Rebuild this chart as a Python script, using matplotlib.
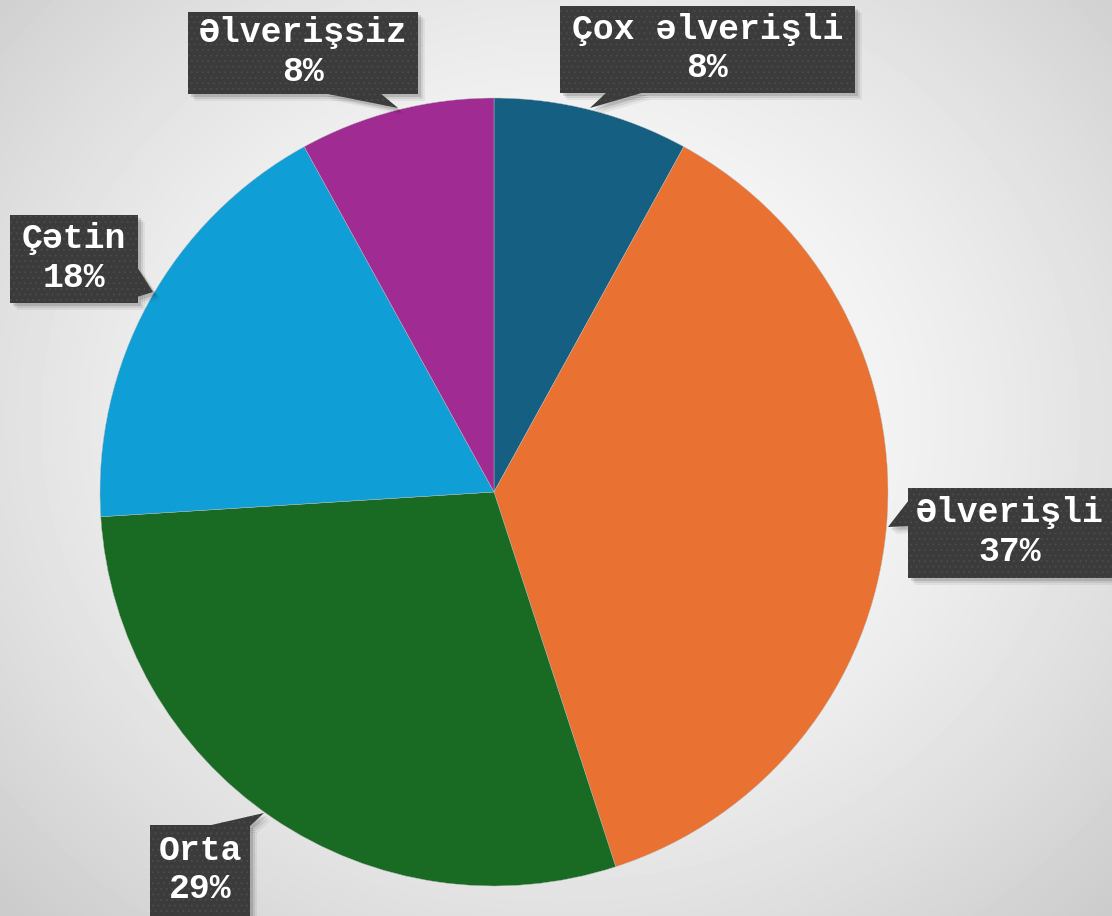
import numpy as np
import matplotlib.pyplot as plt
from matplotlib.patches import Polygon, Rectangle

categories = ["Çox əlverişli", "Əlverişli", "Orta", "Çətin", "Əlverişsiz"]
shares = [8, 37, 29, 18, 8]
colors = ["#156082", "#E97132", "#196B24", "#0F9ED5", "#A02B93"]

W, H = 1112, 916
fig = plt.figure(figsize=(W / 100, H / 100), dpi=100)
ax = fig.add_axes([0, 0, 1, 1])

# grey radial background
yy, xx = np.mgrid[0:H, 0:W]
d = np.hypot((xx - 560) / 700, (yy - 420) / 620)
bg = np.clip(1.0 - 0.17 * d ** 1.6, 0.8, 1.0)
ax.imshow(bg, cmap="gray", vmin=0, vmax=1, extent=(0, W, H, 0), zorder=0)

# y axis points down so that pixel positions read like the picture
ax.pie(shares, colors=colors, startangle=-90, counterclock=True,
       center=(494, 492), radius=394, frame=True,
       wedgeprops=dict(linewidth=0.3, edgecolor="#bbbbbb"))
ax.set_xlim(0, W)
ax.set_ylim(H, 0)
ax.set_aspect("equal")
ax.axis("off")

# callout boxes: (x0, y0, x1, y1) and pointer triangle, in pixels
callouts = [
    ((560, 6, 855, 93), [(607, 92), (645, 92), (590, 108)]),
    ((908, 488, 1116, 578), [(909, 500), (909, 526), (888, 527)]),
    ((150, 825, 250, 920), [(207, 826), (250, 826), (264, 813)]),
    ((10, 215, 138, 303), [(137, 267), (137, 297), (153, 292)]),
    ((188, 12, 418, 94), [(323, 93), (380, 93), (398, 108)]),
]

for (x0, y0, x1, y1), tri in callouts:
    for k, a in [(7, 0.05), (5, 0.08), (3, 0.12)]:
        ax.add_patch(Rectangle((x0 + k, y0 + k), x1 - x0, y1 - y0,
                               facecolor="black", alpha=a, lw=0, zorder=3))
        ax.add_patch(Polygon([(px + k, py + k) for px, py in tri],
                             facecolor="black", alpha=a, lw=0, zorder=3))

plt.rcParams["hatch.linewidth"] = 0.6
for ((x0, y0, x1, y1), tri), cat, val in zip(callouts, categories, shares):
    ax.add_patch(Rectangle((x0, y0), x1 - x0, y1 - y0, facecolor="#3b3b3b",
                           edgecolor="#4c4c4c", hatch="...", lw=0, zorder=4))
    ax.add_patch(Polygon(tri, facecolor="#3b3b3b", edgecolor="#4c4c4c",
                         hatch="...", lw=0, zorder=4))
    ax.text((x0 + min(x1, W)) / 2, (y0 + min(y1, H)) / 2 - 1,
            f"{cat}\n{val}%", ha="center", va="center", color="white",
            fontsize=25, fontweight="bold", linespacing=1.2,
            family=["Liberation Mono", "DejaVu Sans Mono"], zorder=5)

fig.savefig("out.png", dpi=100)
